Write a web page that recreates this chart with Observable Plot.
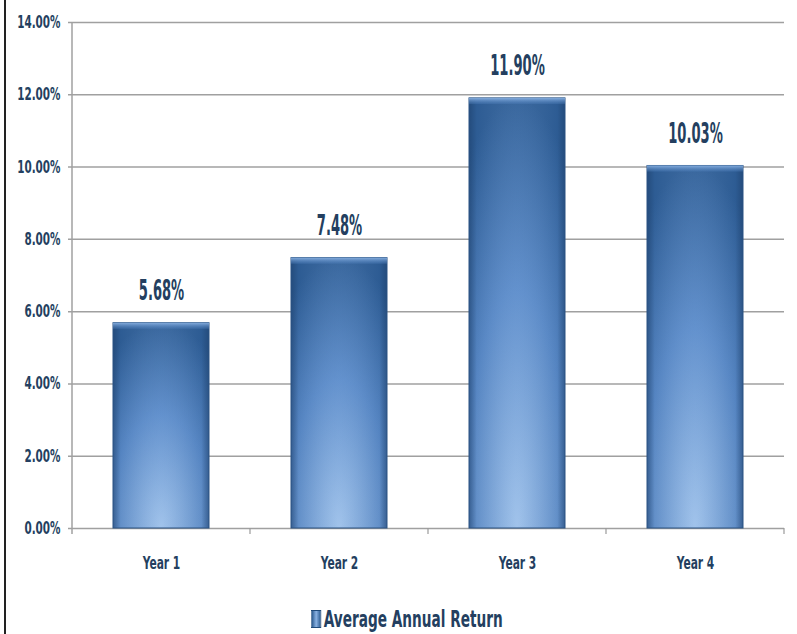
<!DOCTYPE html>
<html><head><meta charset="utf-8">
<script src="https://cdn.jsdelivr.net/npm/d3@7"></script>
<script src="https://cdn.jsdelivr.net/npm/@observablehq/plot@0.6"></script>
<style>
body{margin:0;background:#fff;width:797px;height:634px;overflow:hidden;position:relative;font-family:"DejaVu Sans Condensed","DejaVu Sans",sans-serif;}
#chart{position:absolute;left:0;top:0;}
#legend{position:absolute;left:0;width:797px;top:606px;text-align:center;white-space:nowrap;}
#legend .inner{display:inline-block;transform:scaleX(0.66);transform-origin:center;font-weight:bold;font-size:23px;color:#243f60;margin-left:16px;}
#legend .sw{display:inline-block;width:13px;height:16px;background:linear-gradient(90deg,#2d5c91,#8ab2e3,#2d5c91);border:1px solid #1f4a7a;margin-right:4px;vertical-align:-1px;}
#edge{position:absolute;left:4px;top:0;width:2px;height:634px;background:#222;z-index:3;}
</style></head>
<body>
<div id="edge"></div>
<div id="chart"></div>
<div id="legend"><span class="inner"><span class="sw"></span>Average Annual Return</span></div>
<script>
const categories = ["Year 1", "Year 2", "Year 3", "Year 4"];
const returns = [5.68, 7.48, 11.90, 10.03];
const yTicks = [0, 2, 4, 6, 8, 10, 12, 14];

const data = categories.map((c, i) => ({cat: c, value: returns[i]}));
const W = 797, H = 598, mL = 72, mR = 13, mT = 22, mB = 70;
const textColor = "#243f60";
const fontFam = '"DejaVu Sans Condensed","DejaVu Sans",sans-serif';

const separators = (index, scales, values, dims) => {
  const g = d3.create("svg:g");
  const n = categories.length;
  const step = (dims.width - dims.marginLeft - dims.marginRight) / n;
  const y0 = dims.height - dims.marginBottom;
  for (let k = 1; k <= n; k++) {
    const x = dims.marginLeft + k * step;
    g.append("line").attr("x1", x).attr("x2", x).attr("y1", y0).attr("y2", y0 + 6)
      .attr("stroke", "#9a9a9a").attr("stroke-width", 1.2);
  }
  return g.node();
};

const chart = Plot.plot({
  width: W, height: H,
  marginLeft: mL, marginRight: mR, marginTop: mT, marginBottom: mB,
  style: {fontFamily: fontFam, fontWeight: "bold", color: textColor, background: "white"},
  x: {domain: categories, paddingInner: 0.46, paddingOuter: 0.23, label: null},
  y: {domain: [0, 14], label: null},
  marks: [
    Plot.ruleY(yTicks, {stroke: "#a0a0a0", strokeWidth: 1.5, insetLeft: -4}),
    Plot.barY(data, {x: "cat", y: "value", fill: "url(#barV)"}),
    Plot.barY(data, {x: "cat", y: "value", fill: "url(#barH)", stroke: "#2a5383", strokeWidth: 1}),
    Plot.barY(data, {x: "cat", y1: d => d.value, y2: d => d.value - 0.17, fill: "url(#barTop)"}),
    Plot.axisY({ticks: yTicks, tickFormat: d => d.toFixed(2) + "%", tickSize: 0, tickPadding: 12, fontSize: 17, fill: textColor, className: "ytick"}),
    Plot.axisX({tickSize: 0, tickPadding: 28, fontSize: 18, fill: textColor, className: "xtick"}),
    Plot.text(data, {x: "cat", y: "value", text: d => d.value.toFixed(2) + "%", dy: -32, fontSize: 28, fontWeight: "bold", fill: textColor, className: "vlabel"}),
    separators
  ]
});

// gradients
const defs = d3.select(chart).insert("defs", ":first-child");
const gv = defs.append("radialGradient").attr("id", "barV").attr("cx", "50%").attr("cy", "100%").attr("r", "100%").attr("fx","50%").attr("fy","100%");
gv.append("stop").attr("offset", "0%").attr("stop-color", "#9cc0ea");
gv.append("stop").attr("offset", "55%").attr("stop-color", "#5b8ccb");
gv.append("stop").attr("offset", "100%").attr("stop-color", "#2f5f98");
const gh = defs.append("linearGradient").attr("id", "barH").attr("x1", "0").attr("x2", "1").attr("y1", "0").attr("y2", "0");
gh.append("stop").attr("offset", "0%").attr("stop-color", "#1d3f6a").attr("stop-opacity", 0.6);
gh.append("stop").attr("offset", "8%").attr("stop-color", "#1d3f6a").attr("stop-opacity", 0.1);
gh.append("stop").attr("offset", "50%").attr("stop-color", "#ffffff").attr("stop-opacity", 0.05);
gh.append("stop").attr("offset", "92%").attr("stop-color", "#1d3f6a").attr("stop-opacity", 0.1);
gh.append("stop").attr("offset", "100%").attr("stop-color", "#1d3f6a").attr("stop-opacity", 0.6);
const gt = defs.append("linearGradient").attr("id", "barTop").attr("x1", "0").attr("x2", "0").attr("y1", "0").attr("y2", "1");
gt.append("stop").attr("offset", "0%").attr("stop-color", "#8fb6e6").attr("stop-opacity", 0.9);
gt.append("stop").attr("offset", "100%").attr("stop-color", "#4f80bd").attr("stop-opacity", 0.3);

// y axis line
d3.select(chart).append("line").attr("x1", mL).attr("x2", mL).attr("y1", mT).attr("y2", H - mB + 6).attr("stroke", "#a0a0a0").attr("stroke-width", 1.5);

document.getElementById("chart").appendChild(chart);

// condense text to mimic a narrow font
function condense(sel, ratio) {
  chart.querySelectorAll(sel + " text").forEach(t => {
    const w = t.getComputedTextLength();
    t.setAttribute("textLength", (w * ratio).toFixed(1));
    t.setAttribute("lengthAdjust", "spacingAndGlyphs");
  });
}
condense(".ytick", 0.68);
condense(".xtick", 0.66);
condense(".vlabel", 0.52);
</script>
</body></html>
